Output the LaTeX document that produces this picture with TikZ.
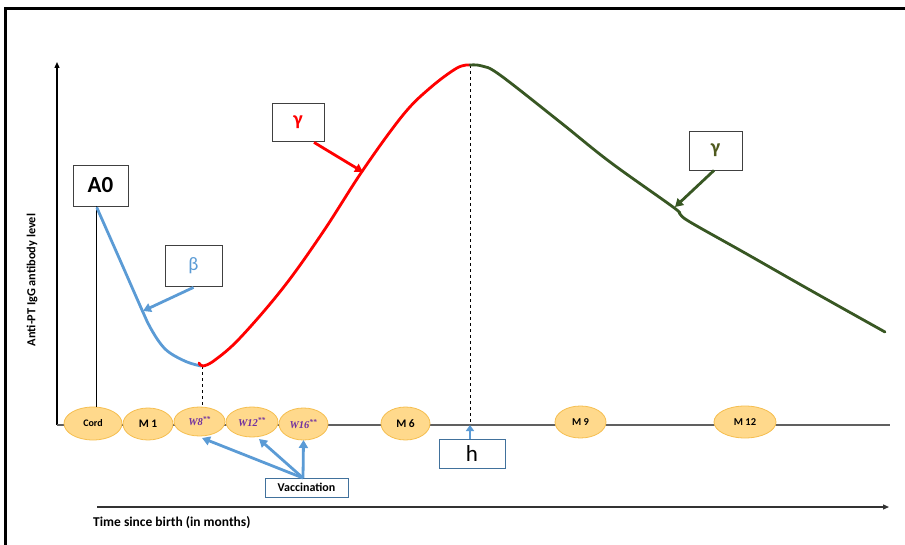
\documentclass[tikz,border=0pt]{standalone}
\usepackage{fontspec}
\setmainfont{Carlito}
\newfontfamily\wfont{Liberation Serif}
\usetikzlibrary{arrows.meta,shapes.geometric}
\definecolor{ablue}{HTML}{5B9BD5}
\definecolor{agreen}{HTML}{385723}
\definecolor{gtext}{HTML}{4F5A1E}
\definecolor{afill}{HTML}{FFD98C}
\definecolor{aedge}{HTML}{F5BE4F}
\definecolor{apurple}{HTML}{7030A0}
\definecolor{boxblue}{HTML}{41719C}
\definecolor{basegray}{HTML}{606060}
\begin{document}
\begin{tikzpicture}[x=1pt,y=-1pt,
  month/.style={ellipse, draw=aedge, fill=afill, line width=0.8pt, inner sep=0pt,
    font=\bfseries\fontsize{10.5}{11}\selectfont},
  week/.style={month, text=apurple, font=\wfont\bfseries\itshape\fontsize{10.5}{11}\selectfont},
  lbox/.style={draw=black!75, line width=0.8pt, inner sep=0pt},
  bbox/.style={draw=boxblue, line width=0.8pt, inner sep=0pt},
  curve/.style={line width=2.8pt, line cap=round, line join=round},
  pointer/.style={line width=2.8pt, -{Triangle[length=8pt,width=9pt]}},
  axis/.style={line width=1.2pt, -{Triangle[length=6pt,width=5pt]}}
]
\useasboundingbox (0,0) rectangle (905,545);
% frame
\draw[line width=3pt] (5,545) -- (5,8.5) -- (905,8.5);

% axes
\coordinate (yb) at (57,425);
\coordinate (yt) at (57,62);
\draw[axis] (yb) -- (yt);
\coordinate (bl) at (57,425);
\coordinate (br) at (890,425);
\draw[basegray, line width=1.2pt] (bl) -- (br);
\coordinate (xl) at (97,507);
\coordinate (xr) at (889,507);
\draw[axis, black!80] (xl) -- (xr);

\node[rotate=90, font=\bfseries\fontsize{12.3}{13}\selectfont] (ylab) at (32,280) {Anti-PT IgG antibody level};
\node[anchor=west, font=\bfseries\fontsize{13.5}{14}\selectfont, inner sep=0pt] (xlab) at (93,523) {Time since birth (in months)};

% month ellipses
\node[month, minimum width=58pt, minimum height=33pt, font=\bfseries\fontsize{10}{11}\selectfont] (cord) at (93,423.5) {Cord};
\node[month, minimum width=50pt, minimum height=32pt, font=\bfseries\fontsize{11.5}{12}\selectfont] (m1) at (148,424) {M 1};
\node[week, minimum width=51pt, minimum height=29pt] (w8) at (199.5,421.5) {W8\textsuperscript{**}};
\node[week, minimum width=52pt, minimum height=30pt] (w12) at (252,422) {W12\textsuperscript{**}};
\node[week, minimum width=49pt, minimum height=32pt] (w16) at (303.5,424) {W16\textsuperscript{**}};
\node[month, minimum width=49pt, minimum height=33pt, font=\bfseries\fontsize{11.5}{12}\selectfont] (m6) at (405.5,423.5) {M 6};
\node[month, minimum width=51pt, minimum height=32pt] (m9) at (580.5,422) {M 9};
\node[month, minimum width=62pt, minimum height=32pt] (m12) at (745,422) {M 12};

% label boxes
\node[lbox, minimum width=55pt, minimum height=41pt, font=\bfseries\fontsize{23}{25}\selectfont] (a0) at (100.5,185.5) {A0};
\node[lbox, minimum width=57pt, minimum height=41pt, text=ablue, font=\fontsize{19}{21}\selectfont] (beta) at (193.5,265.5) {β};
\node[lbox, minimum width=52pt, minimum height=38pt, text=red, font=\bfseries\fontsize{20}{22}\selectfont] (gred) at (298,122) {γ};
\node[lbox, minimum width=53pt, minimum height=39pt, text=gtext, font=\bfseries\fontsize{20}{22}\selectfont] (ggreen) at (715.5,150.5) {γ};
\node[bbox, minimum width=66pt, minimum height=29pt, font=\fontsize{23}{25}\selectfont] (h) at (472,453.5) {h};
\node[bbox, minimum width=83pt, minimum height=19pt, font=\bfseries\fontsize{12}{13}\selectfont] (vacc) at (306.5,487.5) {Vaccination};

% reference lines
\coordinate (a0x) at (96,206);
\draw[line width=0.8pt] (a0x) -- (a0x |- cord.north);
\coordinate (bmin) at (202,366);
\draw[dashed, line width=0.6pt] (bmin) -- (bmin |- w8.north);
\coordinate (peak) at (470,65);
\coordinate (hbase) at (470,425);
\draw[dashed, line width=0.6pt] (peak) -- (hbase);

% curves
\draw[curve, ablue] plot[smooth, tension=0.6] coordinates {(97,208) (120,260) (142,310) (150,327) (160,343) (170,353) (187,362) (201,366)};
\draw[curve, red] plot[smooth, tension=0.6] coordinates {(199,363) (203,366) (215,360) (240,338) (283,288) (323,232) (363,170) (403,115) (430,88) (457,68) (470,65)};
\draw[curve, agreen] plot[smooth, tension=0.6] coordinates {(470,65) (482,66) (500,75) (560,122) (610,162) (673,207) (680,214) (690,222) (745,253) (810,290) (885,332)};

% pointers
\coordinate (bpt) at (143,311);
\coordinate (rpt) at (363,172);
\coordinate (gpt) at (675,207);
\draw[pointer, ablue] (beta.south) ++(0,1) coordinate (bs) (bs) -- (bpt);
\draw[pointer, red] (gred.south) ++(16,1) coordinate (rs) (rs) -- (rpt);
\draw[pointer, agreen] (ggreen.south) ++(-1.5,0) coordinate (gs) (gs) -- (gpt);

\coordinate (vs) at (303,478);
\coordinate (t8) at (202,438);
\coordinate (t12) at (259,439);
\coordinate (t16) at (303.5,440);
\draw[pointer, ablue] (vs) -- (t8);
\draw[pointer, ablue] (vs) -- (t12);
\draw[pointer, ablue] (vs) -- (t16);
\draw[pointer, ablue, -{Triangle[length=6pt,width=8pt]}] (h.north -| hbase) -- (hbase);
\end{tikzpicture}
\end{document}
